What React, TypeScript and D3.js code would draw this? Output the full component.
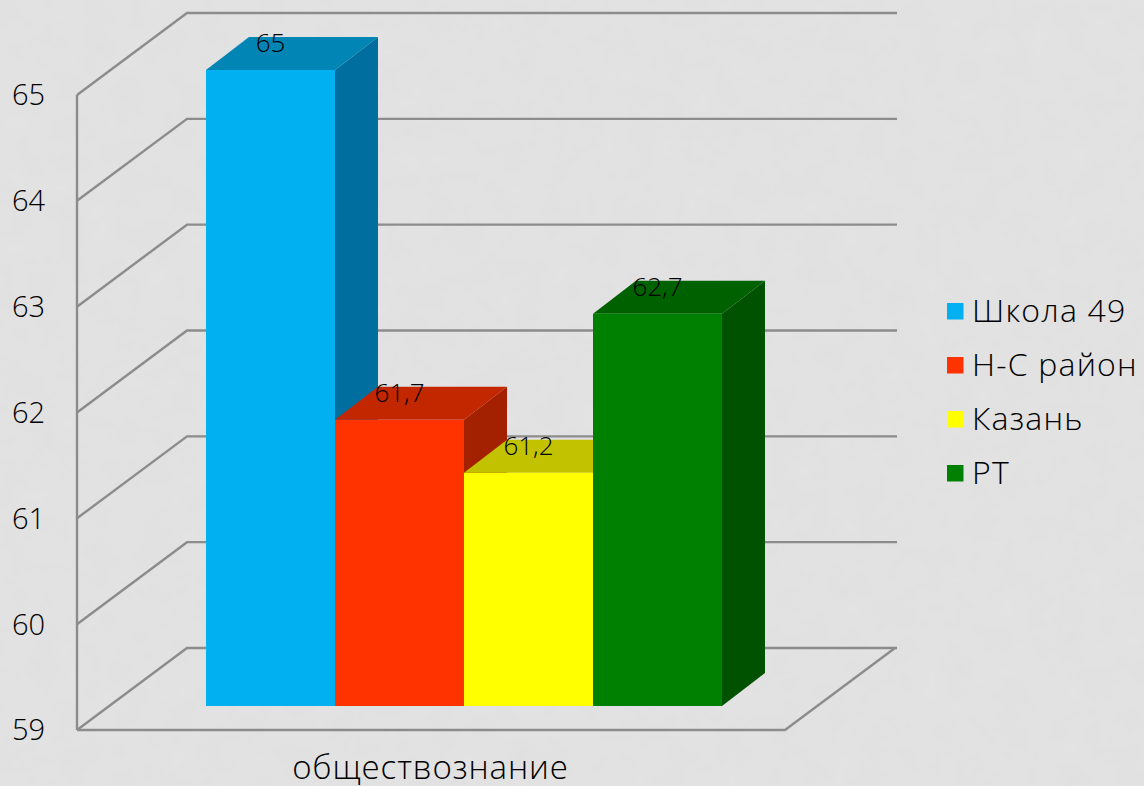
import * as d3 from 'd3';

const CATEGORY = 'обществознание';
const SERIES = ['Школа 49', 'Н-С район', 'Казань', 'РТ'];
const VALUES = [65, 61.7, 61.2, 62.7];
const TICKS = [59, 60, 61, 62, 63, 64, 65];

const FRONT = ['#00B0F0', '#FF3300', '#FFFF00', '#008000'];
const TOP = ['#0085B5', '#C22700', '#C2C200', '#006100'];
const SIDE = ['#006F9F', '#A32000', '#A1A100', '#005100'];

const VW = 1144;
const VH = 786;
const FONT = '"Open Sans", "Noto Sans", sans-serif';
const INK = '#000';
const GRID = '#8c8c8c';
const GRID_W = 2.4;

// front edge of the chart box
const yFront = d3.scaleLinear().domain([59, 65]).range([730, 95]);
const FRONT_LEFT = 77;
const FRONT_RIGHT = 785;
const BOX_DX = 110;
const BOX_DY = -82;

// bars sit part way into the floor
const BAR_BASE = 706;
const BAR_DX = 43;
const BAR_DY = -33;
const yBar = d3.scaleLinear().domain([59, 65]).range([BAR_BASE, BAR_BASE - 636]);
const xBar = d3.scaleBand<string>().domain(SERIES).range([206, 722]);
const barW = xBar.bandwidth();

const fmt = d3.formatLocale({ decimal: ',', thousands: ' ', grouping: [3], currency: ['', ''] }).format('~r');

function poly(points: [number, number][]) {
  return d3.line()(points) + 'Z';
}

export default function App() {
  return (
    <svg width={VW} height={VH} viewBox={`0 0 ${VW} ${VH}`}
      style={{ position: 'absolute', left: 0, top: 0, display: 'block' }}>
      <defs>
        <filter id="paper" x="0" y="0" width="100%" height="100%">
          <feTurbulence type="fractalNoise" baseFrequency="0.035" numOctaves={3} seed={4} />
          <feColorMatrix type="matrix"
            values="0 0 0 0 0.5  0 0 0 0 0.5  0 0 0 0 0.5  0.09 0 0 0 -0.01" />
        </filter>
      </defs>
      <rect width={VW} height={VH} fill="#e3e3e3" />
      <rect width={VW} height={VH} filter="url(#paper)" />

      {TICKS.map(t => (
        <path key={t} fill="none" stroke={GRID} strokeWidth={GRID_W}
          d={d3.line()([
            [FRONT_LEFT, yFront(t)],
            [FRONT_LEFT + BOX_DX, yFront(t) + BOX_DY],
            [897, yFront(t) + BOX_DY],
          ]) ?? ''} />
      ))}
      <line x1={FRONT_LEFT} x2={FRONT_LEFT} y1={yFront(65)} y2={yFront(59)} stroke={GRID} strokeWidth={GRID_W} />
      <path fill="none" stroke={GRID} strokeWidth={GRID_W}
        d={d3.line()([
          [FRONT_LEFT, yFront(59)],
          [FRONT_RIGHT, yFront(59)],
          [FRONT_RIGHT + BOX_DX, yFront(59) + BOX_DY],
        ]) ?? ''} />

      {TICKS.map(t => (
        <text key={t} x={45} y={yFront(t)} dy="0.36em" textAnchor="end"
          fontFamily={FONT} fontSize={29} fontWeight={300} fill={INK}>{t}</text>
      ))}

      {SERIES.map((s, i) => {
        const x0 = xBar(s)!;
        const x1 = x0 + barW;
        const top = yBar(VALUES[i]);
        return (
          <g key={s}>
            <path fill={SIDE[i]} d={poly([[x1, top], [x1 + BAR_DX, top + BAR_DY], [x1 + BAR_DX, BAR_BASE + BAR_DY], [x1, BAR_BASE]])} />
            <path fill={TOP[i]} d={poly([[x0, top], [x0 + BAR_DX, top + BAR_DY], [x1 + BAR_DX, top + BAR_DY], [x1, top]])} />
            <rect x={x0} y={top} width={barW} height={BAR_BASE - top} fill={FRONT[i]} />
          </g>
        );
      })}

      {SERIES.map((s, i) => (
        <text key={s} x={xBar(s)! + barW / 2} y={yBar(VALUES[i]) - 27} dy="0.36em" textAnchor="middle"
          fontFamily={FONT} fontSize={26} fontWeight={300} fill={INK}>{fmt(VALUES[i])}</text>
      ))}

      <text x={430.5} y={779} textAnchor="middle" fontFamily={FONT} fontSize={33} fontWeight={300}
        letterSpacing={0.9} fill={INK}>{CATEGORY}</text>

      {SERIES.map((s, i) => (
        <g key={s} transform={`translate(947, ${310 + i * 54})`}>
          <rect x={0} y={-7} width={16.5} height={16.5} fill={FRONT[i]} />
          <text x={25} y={0} dy="0.36em" fontFamily={FONT} fontSize={32} fontWeight={300}
            letterSpacing={1.2} fill={INK}>{s}</text>
        </g>
      ))}
    </svg>
  );
}
